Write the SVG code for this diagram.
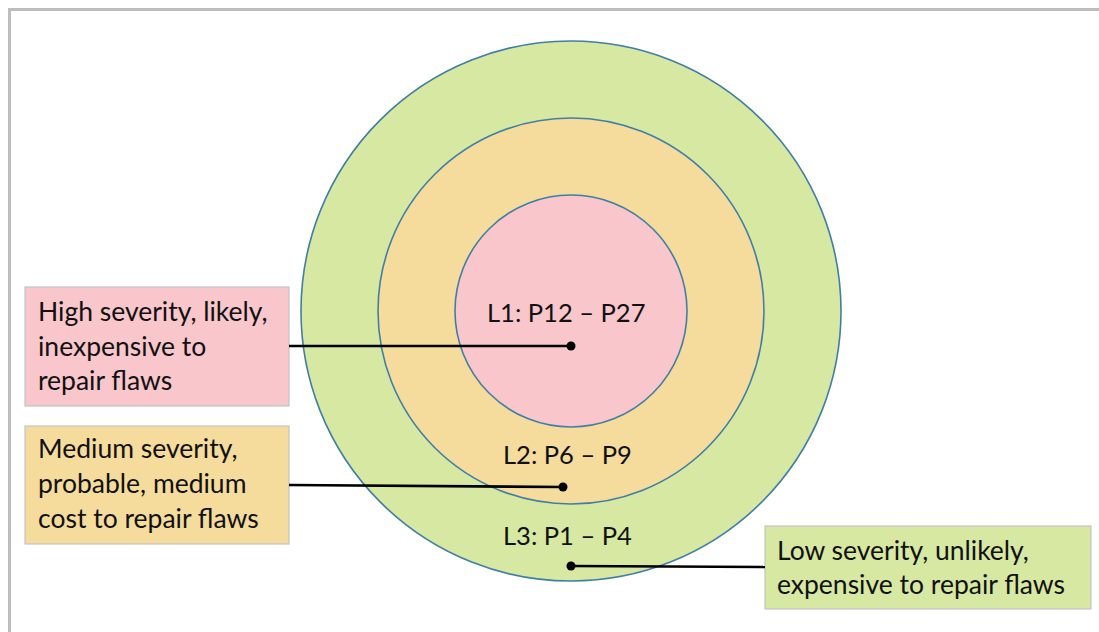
<svg xmlns="http://www.w3.org/2000/svg" width="1099" height="632" viewBox="0 0 1099 632">
<style>
.ring{stroke:#3f7fa6;stroke-width:1.6}
.box{stroke:#c4c4c4;stroke-width:1.2}
.t{font-family:Lato,"Liberation Sans",sans-serif;font-size:26.5px;fill:#111}
.c{font-size:25.5px}
.lead{stroke:#000;stroke-width:2.6;fill:none}
</style>
<rect width="1099" height="632" fill="#fff"/>
<path d="M9.5 640 V9.5 H1110" fill="none" stroke="#bdbdbd" stroke-width="3"/>
<g id="ring-L3"><circle class="ring" cx="571" cy="311" r="270" fill="#d7e8a3"/><text class="t c" x="503" y="545">L3: P1 – P4</text></g>
<g id="ring-L2"><circle class="ring" cx="571" cy="311" r="193" fill="#f5dc9c"/><text class="t c" x="503" y="464">L2: P6 – P9</text></g>
<g id="ring-L1"><circle class="ring" cx="571" cy="311" r="116" fill="#f8c6cb"/><text class="t c" x="487" y="322">L1: P12 – P27</text></g>
<g id="box-high"><rect class="box" x="25" y="287" width="264" height="119" fill="#f8c6cb"/>
<text class="t" x="38" y="321">High severity, likely,</text><text class="t" x="38" y="356">inexpensive to</text><text class="t" x="38" y="390">repair flaws</text></g>
<g id="box-medium"><rect class="box" x="25" y="426" width="264" height="118" fill="#f5dc9c"/>
<text class="t" x="38" y="458">Medium severity,</text><text class="t" x="38" y="493">probable, medium</text><text class="t" x="38" y="528">cost to repair flaws</text></g>
<g id="box-low"><rect class="box" x="765" y="526" width="326" height="83" fill="#d7e8a3"/>
<text class="t" x="777" y="560">Low severity, unlikely,</text><text class="t" x="777" y="594">expensive to repair flaws</text></g>
<g id="connectors">
<line class="lead" x1="289" y1="346" x2="571" y2="346"/><circle cx="571" cy="346" r="4.5"/>
<line class="lead" x1="289" y1="485" x2="563" y2="487"/><circle cx="563" cy="487" r="4.5"/>
<line class="lead" x1="571" y1="566" x2="765" y2="567"/><circle cx="571" cy="566" r="4.5"/>
</g>
</svg>
